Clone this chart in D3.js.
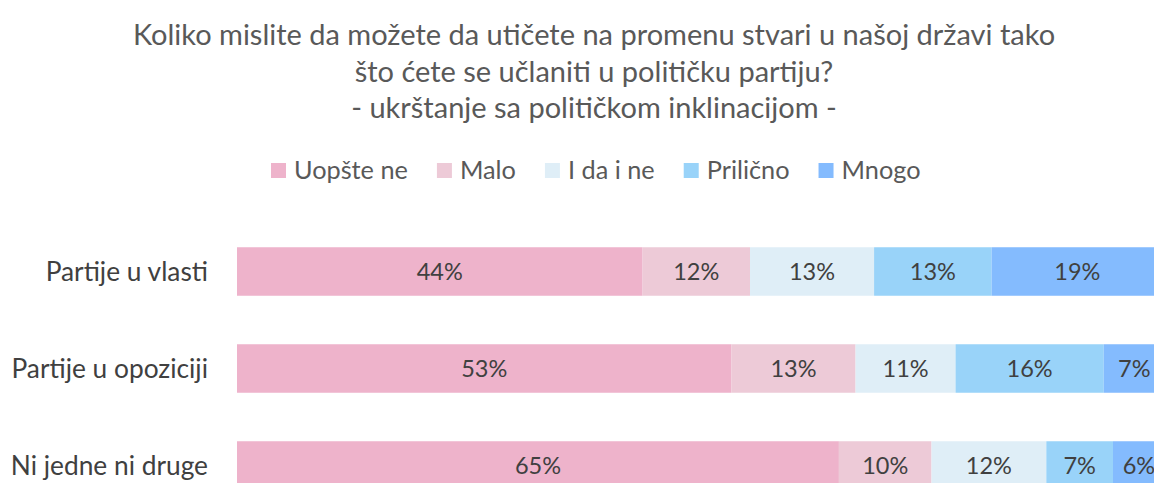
<!DOCTYPE html>
<html><head><meta charset="utf-8">
<script src="https://cdn.jsdelivr.net/npm/d3@7"></script>
<style>
html,body{margin:0;padding:0;background:#fff;overflow:hidden;}
svg{display:block;font-family:Lato, "Open Sans", sans-serif;}
</style></head>
<body>
<svg id="chart" width="1154" height="483"></svg>
<script>
const titleLines = [
  "Koliko mislite da možete da utičete na promenu stvari u našoj državi tako",
  "što ćete se učlaniti u političku partiju?",
  "- ukrštanje sa političkom inklinacijom -"
];
const categories = ["Partije u vlasti", "Partije u opoziciji", "Ni jedne ni druge"];
const seriesNames = ["Uopšte ne", "Malo", "I da i ne", "Prilično", "Mnogo"];
const seriesColors = ["#eeb3cb", "#edcad7", "#dfeef7", "#99d3f9", "#84bbfe"];
const uopsteNe = [43.8, 53.4, 65.0];
const malo     = [11.6, 13.4, 10.0];
const idaine   = [13.4, 10.8, 12.4];
const prilicno = [12.7, 16.0, 7.2];
const mnogo    = [18.5, 6.6, 5.6];
const labels = [
  ["44%", "12%", "13%", "13%", "19%"],
  ["53%", "13%", "11%", "16%", "7%"],
  ["65%", "10%", "12%", "7%", "6%"]
];

const series = [uopsteNe, malo, idaine, prilicno, mnogo];
const rows = categories.map((c, i) => {
  const o = {cat: c};
  seriesNames.forEach((s, j) => o[s] = series[j][i]);
  return o;
});
const stacked = d3.stack().keys(seriesNames)(rows);

const svg = d3.select("#chart");
const x = d3.scaleLinear().domain([0, 100]).range([237, 1163]);
const y = d3.scaleBand().domain(categories).range([223, 514]).paddingInner(0.5).paddingOuter(0.25);
const color = d3.scaleOrdinal().domain(seriesNames).range(seriesColors);

// Title
const cx = 594;
svg.append("g").selectAll("text").data(titleLines).join("text")
  .attr("x", cx).attr("y", (d, i) => 45 + i * 36.5)
  .attr("text-anchor", "middle")
  .attr("fill", "#595959").attr("font-size", 29)
  .text(d => d);

// Legend
const leg = svg.append("g");
let lx = 0;
seriesNames.forEach((s, i) => {
  const g = leg.append("g");
  g.append("rect").attr("x", 0).attr("y", -7).attr("width", 15).attr("height", 15).attr("fill", seriesColors[i]);
  const t = g.append("text").attr("x", 23).attr("y", 0).attr("dy", "0.35em")
    .attr("font-size", 25.3).attr("fill", "#595959").text(s);
  const w = 23 + t.node().getComputedTextLength();
  g.attr("transform", `translate(${lx},0)`);
  lx += w + 29;
});
leg.attr("transform", `translate(${271},170)`);

// Bars
const layer = svg.append("g").selectAll("g").data(stacked).join("g")
  .attr("fill", d => color(d.key));
layer.selectAll("rect").data(d => d).join("rect")
  .attr("x", d => x(d[0]))
  .attr("y", d => y(d.data.cat))
  .attr("width", d => x(d[1]) - x(d[0]))
  .attr("height", y.bandwidth());

// Segment labels
const lab = svg.append("g");
stacked.forEach((s, j) => {
  s.forEach((d, i) => {
    lab.append("text")
      .attr("x", (x(d[0]) + x(d[1])) / 2)
      .attr("y", y(d.data.cat) + y.bandwidth() / 2)
      .attr("dy", "0.35em")
      .attr("text-anchor", "middle")
      .attr("font-size", 23.5).attr("fill", "#404040")
      .text(labels[i][j]);
  });
});

// Category axis labels
svg.append("g").selectAll("text").data(categories).join("text")
  .attr("x", 208)
  .attr("y", d => y(d) + y.bandwidth() / 2)
  .attr("dy", "0.35em")
  .attr("text-anchor", "end")
  .attr("font-size", 26.3).attr("fill", "#404040")
  .text(d => d);
</script>
</body></html>
